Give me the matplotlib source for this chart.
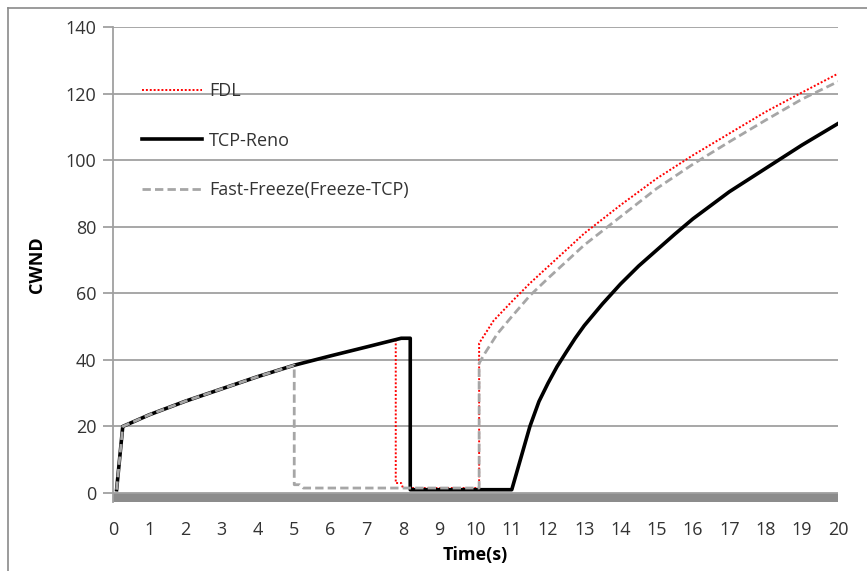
import matplotlib.pyplot as plt
from matplotlib.lines import Line2D

plt.rcParams['font.family'] = ['Open Sans', 'DejaVu Sans']

# TCP-Reno
reno_t = [0.1, 0.27, 1, 2, 3, 4, 5, 6, 7, 7.95, 8.2, 8.2, 11.0, 11.5, 11.75, 12, 12.25, 12.5, 12.75, 13, 13.5, 14, 14.5, 15, 15.5, 16, 17, 18, 19, 20]
reno_w = [1, 20, 23.5, 27.6, 31.3, 35, 38.4, 41.2, 43.9, 46.5, 46.5, 1, 1, 20, 27.5, 33, 38, 42.3, 46.5, 50.3, 56.8, 62.8, 68.2, 73, 77.8, 82.4, 90.5, 97.5, 104.5, 111]

# FDL
fdl_t = [0.1, 0.27, 1, 2, 3, 4, 5, 6, 7, 7.8, 7.8, 7.95, 8.0, 10.1, 10.1, 10.5, 11, 11.5, 12, 13, 14, 15, 16, 17, 18, 19, 20]
fdl_w = [1, 20, 23.5, 27.6, 31.3, 35, 38.4, 41.2, 43.9, 46, 3, 3, 1.5, 1.5, 45, 51.8, 57.5, 63, 68, 78, 86.5, 94.5, 101.5, 108, 114.5, 120.3, 126]

# Fast-Freeze(Freeze-TCP)
ff_t = [0.1, 0.27, 1, 2, 3, 4, 5, 5, 5.15, 5.25, 10.1, 10.1, 10.26, 10.6, 11, 11.5, 12, 13, 14, 15, 16, 17, 18, 19, 20]
ff_w = [1, 20, 23.5, 27.6, 31.3, 35, 38.4, 2.5, 2.5, 1.5, 1.5, 39, 42, 47.8, 53, 59.3, 64.5, 74.5, 83, 91.5, 98.8, 105.5, 112, 118.3, 123.6]

fig = plt.figure(figsize=(8.67, 5.71), dpi=100)
ax = fig.add_axes([0.1303, 0.1208, 0.8363, 0.8319])

ax.plot(fdl_t, fdl_w, color='#ff0000', linestyle=(0, (1, 1)), linewidth=1.4, label='FDL')
ax.plot(reno_t, reno_w, color='black', linewidth=2.6, label='TCP-Reno')
ax.plot(ff_t, ff_w, color='#a6a6a6', linestyle=(0, (3, 1.5)), linewidth=2.0, label='Fast-Freeze(Freeze-TCP)')

# grey floor bar under zero
ax.axhspan(-2.7, 0, color='#8c8c8c', lw=0, zorder=0.5)

ax.set_xlim(0, 20)
ax.set_ylim(-2.7, 140)
ax.set_xticks(range(0, 21))
ax.set_yticks(range(0, 141, 20))
ax.yaxis.grid(True, color='#a0a0a0', linewidth=1.3)
ax.set_axisbelow(True)

for s in ['top', 'right', 'bottom']:
    ax.spines[s].set_visible(False)
ax.spines['left'].set_color('#a0a0a0')
ax.spines['left'].set_linewidth(1.3)
ax.tick_params(axis='y', length=7, width=1.3, color='#a0a0a0', labelsize=13, pad=5, labelcolor='#333333')
ax.tick_params(axis='x', length=0, labelsize=13, pad=14, labelcolor='#333333')

ax.set_xlabel('Time(s)', fontsize=13, fontweight='bold', labelpad=5)
ax.set_ylabel('CWND', fontsize=13, fontweight='bold', labelpad=14)

ax.legend(loc='upper left', bbox_to_anchor=(0.018, 0.918), frameon=False, fontsize=13,
          handlelength=3.3, handletextpad=0.4, labelspacing=1.75, labelcolor='#333333')

# outer border
fig.add_artist(Line2D([8 / 867, 8 / 867], [0, 1 - 8 / 571], color='#8a8a8a', lw=1.2))
fig.add_artist(Line2D([8 / 867, 1], [1 - 8 / 571, 1 - 8 / 571], color='#8a8a8a', lw=1.2))

fig.savefig('out.png', dpi=100)
